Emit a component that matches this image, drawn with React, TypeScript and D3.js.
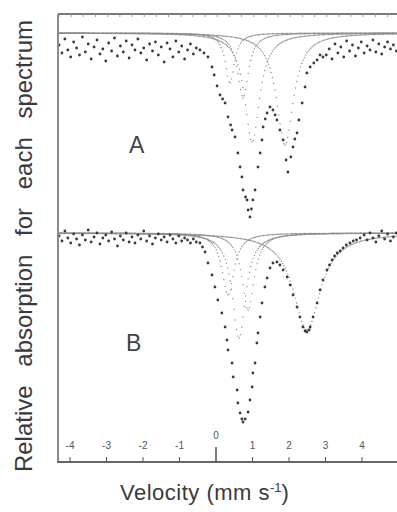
import React, { useEffect, useRef } from "react";
import * as d3 from "d3";

const width = 397;
const height = 512;

// velocity axis (mm/s)
const velocityTicks = [-4, -3, -2, -1, 0, 1, 2, 3, 4];

// channel velocities of the flat baseline stretches
const baseVelLeft = [
  -4.3, -4.22, -4.14, -4.06, -3.98, -3.9, -3.82, -3.74, -3.66, -3.58, -3.5, -3.42,
  -3.34, -3.26, -3.18, -3.1, -3.02, -2.94, -2.86, -2.78, -2.7, -2.62, -2.54, -2.46,
  -2.38, -2.3, -2.22, -2.14, -2.06, -1.98, -1.9, -1.82, -1.74, -1.66, -1.58, -1.5,
  -1.42, -1.34, -1.26, -1.18, -1.1, -1.02, -0.94, -0.86, -0.78, -0.7, -0.62, -0.54,
];
const baseVelRightA = [
  3.02, 3.1, 3.18, 3.26, 3.34, 3.42, 3.5, 3.58, 3.66, 3.74, 3.82, 3.9, 3.98, 4.06,
  4.14, 4.22, 4.3, 4.38, 4.46, 4.54, 4.62, 4.7, 4.78, 4.86, 4.94, 5.02,
];
const baseVelRightB = [4.06, 4.14, 4.22, 4.3, 4.38, 4.46, 4.54, 4.62, 4.7, 4.78, 4.86, 4.94, 5.02];

// spectrum A, absorption on the baseline stretches
const baseAbsLeftA = [
  1.2, 2.0, 0.6, 1.7, 2.4, 0.9, 1.5, 2.2, 0.4, 1.9, 1.1, 2.6, 1.4, 0.7, 2.1, 1.6,
  2.8, 1.0, 1.8, 0.5, 2.3, 1.3, 1.9, 0.8, 2.5, 1.2, 1.7, 0.6, 2.0, 1.5, 2.7, 1.1,
  1.8, 0.9, 2.2, 1.4, 2.9, 1.0, 1.6, 2.4, 0.8, 1.9, 1.3, 2.6, 1.7, 1.1, 2.1, 1.5,
];
const baseAbsRightA = [
  2.2, 1.6, 2.6, 1.1, 2.0, 1.4, 2.4, 0.8, 1.8, 1.2, 2.3, 1.5, 0.9, 2.0, 1.3, 1.7,
  0.7, 1.9, 1.1, 2.1, 1.4, 0.9, 1.6, 1.2, 1.8, 1.0,
];
// spectrum A, points through the doublets [velocity, absorption]
const dipA: [number, number][] = [
  [-0.44, 1.7], [-0.33, 2.0], [-0.22, 2.4], [-0.11, 3.4], [-0.05, 4.2], [0.03, 5.3],
  [0.11, 6.2], [0.18, 6.6], [0.25, 7.0], [0.33, 8.4], [0.4, 9.2], [0.44, 9.7],
  [0.52, 10.4], [0.6, 12.0], [0.66, 13.4], [0.71, 14.4], [0.74, 15.7], [0.81, 16.4],
  [0.85, 16.7], [0.88, 17.7], [0.93, 18.4], [0.97, 17.6], [1.01, 16.7], [1.07, 15.7],
  [1.15, 13.4], [1.21, 12.0], [1.26, 10.7], [1.29, 9.4], [1.35, 8.6], [1.4, 8.0],
  [1.48, 7.4], [1.56, 7.7], [1.62, 8.2], [1.67, 8.7], [1.75, 9.7], [1.84, 10.7],
  [1.92, 12.7], [1.97, 13.9], [2.05, 12.4], [2.11, 11.4], [2.16, 10.6], [2.22, 10.0],
  [2.27, 8.7], [2.36, 7.0], [2.44, 5.4], [2.49, 4.0], [2.58, 3.4], [2.68, 3.0],
  [2.77, 2.7], [2.85, 2.2], [2.93, 2.4],
];

// spectrum B
const baseAbsLeftB = [
  0.3, 0.8, -0.2, 0.5, 1.0, 0.1, 0.6, 1.2, 0.2, 0.7, -0.3, 0.9, 0.4, 0.0, 1.1, 0.5,
  0.2, 0.8, -0.1, 0.6, 1.3, 0.3, 0.7, 0.0, 0.9, 0.4, 1.0, 0.2, 0.6, -0.2, 0.8, 0.3,
  1.1, 0.5, 0.1, 0.7, 0.4, 0.9, 0.2, 0.6, 1.0, 0.3, 0.8, 0.5, 0.7, 1.0, 0.6, 0.9,
];
const baseAbsRightB = [0.2, 0.7, 0.0, 0.5, 0.9, 0.3, -0.2, 0.6, 0.1, 0.8, 0.4, 0.0, 0.5];
const dipB: [number, number][] = [
  [-0.44, 1.0], [-0.37, 1.4], [-0.3, 1.9], [-0.22, 3.0], [-0.11, 4.2], [-0.03, 5.4],
  [0.05, 6.7], [0.16, 8.0], [0.25, 9.4], [0.3, 10.7], [0.33, 11.7], [0.44, 13.0],
  [0.47, 14.4], [0.58, 15.7], [0.6, 17.0], [0.66, 18.0], [0.71, 18.6], [0.74, 18.9],
  [0.8, 18.6], [0.88, 17.9], [0.93, 16.7], [0.99, 15.4], [1.01, 14.0], [1.07, 13.0],
  [1.12, 11.0], [1.15, 10.0], [1.21, 8.4], [1.26, 7.0], [1.34, 5.4], [1.4, 4.5],
  [1.48, 3.5], [1.56, 3.0], [1.67, 2.9], [1.75, 3.2], [1.84, 3.7], [1.95, 4.4],
  [2.03, 5.2], [2.11, 6.2], [2.22, 7.4], [2.3, 8.4], [2.38, 9.4], [2.44, 9.8],
  [2.49, 9.9], [2.55, 9.7], [2.58, 9.4], [2.66, 8.4], [2.77, 7.0], [2.85, 5.7],
  [2.93, 4.7], [3.04, 3.7], [3.11, 3.2], [3.18, 2.7], [3.25, 2.3], [3.32, 2.0],
  [3.4, 1.8], [3.48, 1.5], [3.57, 1.2], [3.67, 1.0], [3.76, 0.8], [3.85, 0.7], [3.95, 0.5],
];

// fitted Lorentzian sub-spectra: centre (mm/s), depth, half width
const compCentreA = [0.38, 0.74, 0.99, 1.89];
const compDepthA = [5.0, 6.5, 10.9, 11.2];
const compWidthA = [0.15, 0.18, 0.25, 0.28];
const compCentreB = [0.33, 0.63, 0.88, 2.49];
const compDepthB = [6.2, 10.5, 7.7, 9.7];
const compWidthB = [0.2, 0.22, 0.2, 0.45];

export default function App() {
  const svgRef = useRef<SVGSVGElement>(null);

  useEffect(() => {
    const svg = d3.select(svgRef.current);
    svg.selectAll("*").remove();

    const frameLeft = 58;
    const frameTop = 14;
    const axisY = 462;
    const font = "Liberation Sans, Arial, sans-serif";

    const x = d3.scaleLinear().domain([-4, 4]).range([70, 362]);
    const yA = d3.scaleLinear().domain([0, 10]).range([33, 133]);
    const yB = d3.scaleLinear().domain([0, 10]).range([233, 333]);

    const channels = d3.range(-4.3, 5.05, 0.035);

    const drawSpectrum = (
      y: d3.ScaleLinear<number, number>,
      centres: number[],
      depths: number[],
      widths: number[],
      points: [number, number][]
    ) => {
      const g = svg.append("g");
      centres.forEach((c, i) => {
        g.append("g")
          .selectAll("circle")
          .data(channels)
          .enter()
          .append("circle")
          .attr("cx", (v) => x(v))
          .attr("cy", (v) => y(depths[i] / (1 + ((v - c) / widths[i]) ** 2)))
          .attr("r", 0.7)
          .attr("fill", "#8c8c8c");
      });
      g.append("g")
        .selectAll("circle")
        .data(points)
        .enter()
        .append("circle")
        .attr("cx", (d) => x(d[0]))
        .attr("cy", (d) => y(d[1]))
        .attr("r", 1.4)
        .attr("fill", "#3a3a3a");
    };

    const ptsA: [number, number][] = [
      ...baseVelLeft.map((v, i) => [v, baseAbsLeftA[i]] as [number, number]),
      ...dipA,
      ...baseVelRightA.map((v, i) => [v, baseAbsRightA[i]] as [number, number]),
    ];
    const ptsB: [number, number][] = [
      ...baseVelLeft.map((v, i) => [v, baseAbsLeftB[i]] as [number, number]),
      ...dipB,
      ...baseVelRightB.map((v, i) => [v, baseAbsRightB[i]] as [number, number]),
    ];

    drawSpectrum(yA, compCentreA, compDepthA, compWidthA, ptsA);
    drawSpectrum(yB, compCentreB, compDepthB, compWidthB, ptsB);

    // frame
    svg
      .append("line")
      .attr("x1", frameLeft)
      .attr("x2", frameLeft)
      .attr("y1", frameTop)
      .attr("y2", axisY)
      .attr("stroke", "#8a8a8a")
      .attr("stroke-width", 2);
    svg
      .append("line")
      .attr("x1", frameLeft)
      .attr("x2", width)
      .attr("y1", frameTop)
      .attr("y2", frameTop)
      .attr("stroke", "#7a7a7a")
      .attr("stroke-width", 2);
    svg
      .append("g")
      .selectAll("line")
      .data(d3.range(-4.3, 5.1, 1 / 3))
      .enter()
      .append("line")
      .attr("x1", (v) => x(v))
      .attr("x2", (v) => x(v))
      .attr("y1", frameTop)
      .attr("y2", frameTop + 3)
      .attr("stroke", "#999");

    // velocity axis
    const axis = svg.append("g");
    axis
      .append("line")
      .attr("x1", frameLeft - 1)
      .attr("x2", width)
      .attr("y1", axisY)
      .attr("y2", axisY)
      .attr("stroke", "#666")
      .attr("stroke-width", 2);
    axis
      .selectAll("line.tick")
      .data(velocityTicks)
      .enter()
      .append("line")
      .attr("class", "tick")
      .attr("x1", (v) => x(v))
      .attr("x2", (v) => x(v))
      .attr("y1", (v) => (v === 0 ? axisY - 15 : axisY - 5))
      .attr("y2", axisY)
      .attr("stroke", "#555")
      .attr("stroke-width", (v) => (v === 0 ? 1.5 : 1));
    axis
      .selectAll("text")
      .data(velocityTicks)
      .enter()
      .append("text")
      .attr("x", (v) => x(v))
      .attr("y", (v) => (v === 0 ? 439 : 449))
      .attr("text-anchor", "middle")
      .attr("font-family", font)
      .attr("font-size", 10)
      .attr("fill", "#555")
      .text((v) => (v < 0 ? "-" + Math.abs(v) : String(v)));

    // panel letters
    const letter = (t: string, lx: number, ly: number) =>
      svg
        .append("text")
        .attr("x", lx)
        .attr("y", ly)
        .attr("font-family", font)
        .attr("font-size", 23)
        .attr("fill", "#444")
        .text(t);
    letter("A", 129, 153);
    letter("B", 126, 351);

    // axis titles
    const xTitle = svg
      .append("text")
      .attr("x", 120)
      .attr("y", 500)
      .attr("font-family", font)
      .attr("font-size", 22)
      .attr("letter-spacing", 0.5)
      .attr("fill", "#3a3a3a");
    xTitle.append("tspan").text("Velocity (mm s");
    xTitle.append("tspan").attr("dy", -8).attr("font-size", 13).attr("letter-spacing", 0).text("-1");
    xTitle.append("tspan").attr("dy", 8).text(")");

    svg
      .append("text")
      .attr("transform", "translate(32, 246) rotate(-90)")
      .attr("text-anchor", "middle")
      .attr("font-family", font)
      .attr("font-size", 24)
      .attr("word-spacing", 12)
      .attr("fill", "#3a3a3a")
      .text("Relative absorption for each spectrum");
  }, []);

  return (
    <svg
      ref={svgRef}
      width={width}
      height={height}
      style={{ position: "absolute", left: 0, top: 0, background: "#fff" }}
    ></svg>
  );
}
